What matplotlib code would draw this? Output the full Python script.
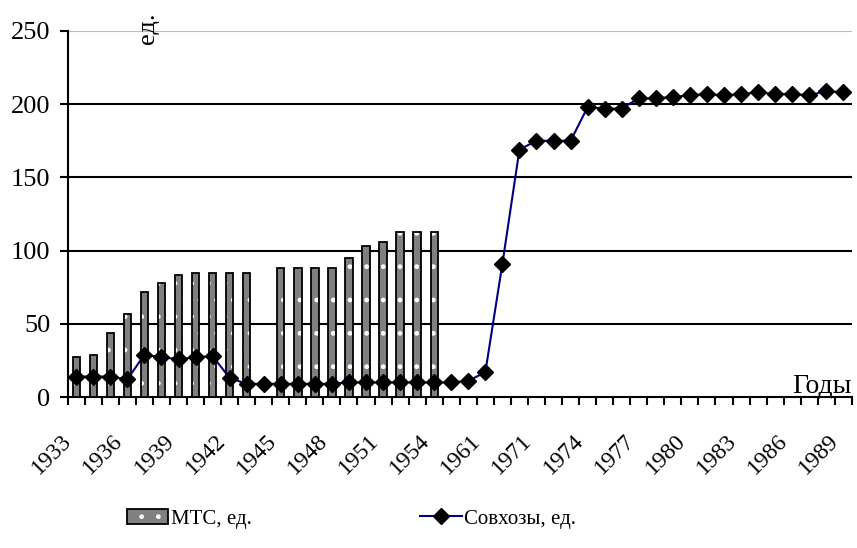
import numpy as np
from matplotlib import pyplot as plt
from matplotlib import transforms
from matplotlib.patches import Patch
from matplotlib.legend_handler import HandlerTuple

plt.rcParams['font.family'] = ['Liberation Serif', 'DejaVu Serif']
plt.rcParams['hatch.linewidth'] = 1.0

# годы (категории оси X)
years = list(range(1933, 1955)) + [1955, 1958, 1961, 1965, 1970] + list(range(1971, 1990))

# МТС, ед. (нет данных = nan)
mts = [27, 29, 44, 57, 72, 78, 83, 85, 85, 85, 85, np.nan, 88, 88, 88, 88, 95, 103, 106, 113, 113, 113]
mts = mts + [np.nan] * (len(years) - len(mts))

# Совхозы, ед.
sovkhoz = [14, 14, 14, 12, 29, 27, 26, 27, 28, 13, 9, 9, 9, 9, 9, 9, 10, 10, 10, 10, 10, 10,
           10, 11, 17, 91, 169, 175, 175, 175, 198, 197, 197, 204, 204, 205, 206, 207, 206,
           207, 208, 207, 207, 206, 209, 208]

fig = plt.figure(figsize=(8.57, 5.48), dpi=100)
ax = fig.add_axes([0.079, 0.2755, 0.915, 0.668])

x = np.arange(len(years))
# заливка с белыми точками, затем чёрный контур
ax.bar(x, mts, width=0.43, color='#808080', edgecolor='white', linewidth=0,
       hatch='.', zorder=3)
ax.bar(x, mts, width=0.43, facecolor='none', edgecolor='black', linewidth=1.3, zorder=3)
line, = ax.plot(x, sovkhoz, color='#000080', linewidth=1.5, marker='D', markersize=8,
                markerfacecolor='black', markeredgecolor='black', zorder=4)

ax.set_xlim(-0.5, len(years) - 0.5)
ax.set_ylim(0, 250)
ax.set_yticks([0, 50, 100, 150, 200, 250])
for v in [50, 100, 150, 200]:
    ax.axhline(v, color='black', linewidth=1.5, zorder=1)
ax.axhline(250, color='#bbbbbb', linewidth=0.8, zorder=1)

# подписи лет — каждая третья, сдвинуты влево-вниз как в Excel
ax.set_xticks([])
shift = transforms.ScaledTranslation(-0.15, -0.33, fig.dpi_scale_trans)
for i in x[::3]:
    ax.text(i, 0, str(years[i]), transform=ax.get_xaxis_transform() + shift,
            rotation=45, ha='right', va='top', rotation_mode='anchor', fontsize=17)
ax.set_xticks(np.arange(-0.5, len(years), 1), minor=True)
ax.tick_params(axis='x', which='minor', length=6, width=1.5, direction='out')
ax.tick_params(axis='y', labelsize=19, length=6, width=1.5, direction='out', pad=6.5)

ax.spines['top'].set_visible(False)
ax.spines['right'].set_visible(False)
ax.spines['left'].set_linewidth(1.5)
ax.spines['bottom'].set_linewidth(1.5)

ax.text(1.0, -0.005, 'Годы', transform=ax.transAxes, ha='right', va='bottom', fontsize=20)
ax.text(0.102, 1.05, 'ед.', transform=ax.transAxes, ha='center', va='top', rotation=90, fontsize=19)

bar_handle = Patch(facecolor='#808080', edgecolor='white', hatch='.', linewidth=0)
frame_handle = Patch(facecolor='none', edgecolor='black', linewidth=1.3)
fig.legend([(bar_handle, frame_handle), line], ['МТС, ед.', 'Совхозы, ед.'],
           handler_map={tuple: HandlerTuple(ndivide=1, pad=0)},
           loc='center', bbox_to_anchor=(0.41, 0.053), ncol=2, frameon=False, fontsize=15,
           columnspacing=8.1, handlelength=2.0, handletextpad=0.1)

fig.savefig('out.png', dpi=100)
